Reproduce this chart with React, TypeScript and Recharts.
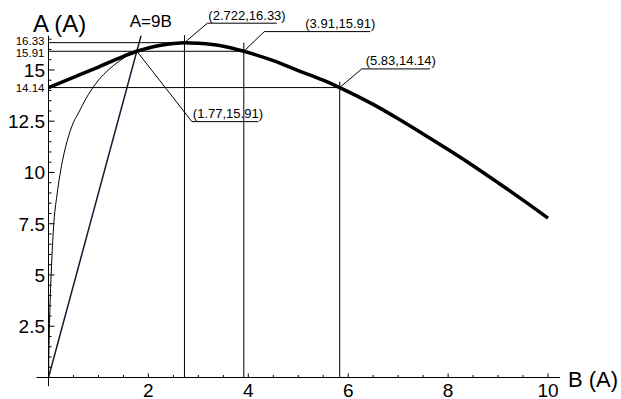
import { LineChart, Line, XAxis, YAxis, ReferenceLine, ReferenceDot } from "recharts";

// thick curve A(B)
const thickB = [0, 0.5, 1, 1.5, 1.77, 2, 2.25, 2.5, 2.722, 3, 3.5, 3.91, 4.5, 5, 5.5, 5.83, 6.5, 7, 7.5, 8, 8.5, 9, 9.5, 10];
const thickA = [14.14, 14.64, 15.14, 15.66, 15.91, 16.07, 16.2, 16.29, 16.33, 16.3, 16.16, 15.91, 15.45, 14.97, 14.5, 14.14, 13.32, 12.62, 11.88, 11.12, 10.33, 9.5, 8.65, 7.77];

// thin curve, rising from the origin
const thinB = [0, 0.01, 0.03, 0.06, 0.1, 0.17, 0.23, 0.3, 0.37, 0.5, 0.6, 0.75, 0.85, 1, 1.2, 1.4, 1.6, 1.77];
const thinA = [0, 1.5, 3.5, 5.4, 7.3, 8.9, 9.9, 10.8, 11.5, 12.45, 12.9, 13.6, 14.0, 14.5, 15.0, 15.4, 15.72, 15.91];

// A = 9B
const lineB = [0, 1.86];
const lineA = [0, 16.74];

// marked points and where their guide lines stop
const pointB = [2.722, 3.91, 5.83];
const pointA = [16.33, 15.91, 14.14];
const guideTop = [16.7, 16.33, 14.43];

// callouts: point, leader tip, underline end
const calloutText = ["(2.722,16.33)", "(3.91,15.91)", "(5.83,14.14)", "(1.77,15.91)"];
const calloutB = [2.722, 3.91, 5.83, 1.77];
const calloutA = [16.33, 15.91, 14.14, 15.91];
const tipB = [3.18, 4.32, 6.27, 2.87];
const tipA = [17.28, 16.87, 15.05, 12.48];
const lineEndB = [4.57, 6.44, 7.64, 4.2];
const textShift = [[1, -3], [41, -4], [4, -4], [1, -3.5]];

const xTicks = [0.5, 1, 1.5, 2, 2.5, 3, 3.5, 4, 4.5, 5, 5.5, 6, 6.5, 7, 7.5, 8, 8.5, 9, 9.5, 10];
const xLabels = [2, 4, 6, 8, 10];
const yMinor = [0.5, 1, 1.5, 2, 2.5, 3, 3.5, 4, 4.5, 5, 5.5, 6, 6.5, 7, 7.5, 8, 8.5, 9, 9.5, 10, 10.5, 11, 11.5, 12, 12.5, 13, 13.5, 14, 14.5, 15, 15.5, 16, 16.5];
const yLabels = [2.5, 5, 7.5, 10, 12.5, 15];
const ySmall = [14.14, 15.91, 16.33];
const ySmallNudge = [0, 1.5, -1.5];

const FONT = "'Liberation Sans', Arial, sans-serif";

const zip = (bs: number[], as: number[]) => bs.map((b, i) => ({ b, a: as[i] }));

function XTick({ x, y, payload }: any) {
  const v = payload.value;
  const major = xLabels.includes(v);
  return (
    <g>
      <line x1={x} x2={x} y1={y} y2={y - (major ? 4 : 2.5)} stroke="#000" />
      {major && (
        <text x={x} y={y + 19} textAnchor="middle" fontSize={19} fontFamily={FONT} fill="#000">
          {v}
        </text>
      )}
    </g>
  );
}

function YTick({ x, y, payload }: any) {
  const v = payload.value;
  const si = ySmall.indexOf(v);
  if (si >= 0) {
    return (
      <text x={x - 4} y={y + 4 + ySmallNudge[si]} textAnchor="end" fontSize={11.5} fontFamily={FONT} fill="#000">
        {v.toFixed(2)}
      </text>
    );
  }
  const major = yLabels.includes(v);
  return (
    <g>
      <line x1={x} x2={x + (major ? 6 : 3)} y1={y} y2={y} stroke="#000" />
      {major && (
        <text x={x - 3.5} y={y + 7} textAnchor="end" fontSize={19} fontFamily={FONT} fill="#000">
          {v}
        </text>
      )}
    </g>
  );
}

const textAt = (text: string, dx: number, dy: number, size: number, anchor = "start") => (props: any) => {
  const vb = props.viewBox || {};
  return (
    <text x={vb.x + dx} y={vb.y + dy} fontSize={size} fontFamily={FONT} textAnchor={anchor} fill="#000">
      {text}
    </text>
  );
};

export default function App() {
  return (
    <div style={{ position: "absolute", left: 0, top: 0, width: 621, height: 399, background: "#fff" }}>
      <LineChart width={621} height={399} margin={{ top: 35.7, right: 61, bottom: 0, left: 0.5 }}>
        <XAxis
          type="number"
          dataKey="b"
          domain={[0, 10.24]}
          allowDataOverflow
          ticks={xTicks}
          interval={0}
          tick={<XTick />}
          tickSize={0}
          tickMargin={0}
          axisLine={false}
          tickLine={false}
          height={21.5}
        />
        <YAxis
          type="number"
          dataKey="a"
          domain={[0, 16.67]}
          allowDataOverflow
          ticks={[...yMinor, ...ySmall]}
          interval={0}
          tick={<YTick />}
          tickSize={0}
          tickMargin={0}
          axisLine={false}
          tickLine={false}
          width={48}
        />

        {/* axes through the origin */}
        <ReferenceLine segment={[{ x: -0.24, y: 0 }, { x: 10.24, y: 0 }]} stroke="#000" ifOverflow="visible" />
        <ReferenceLine segment={[{ x: 0, y: -0.42 }, { x: 0, y: 16.67 }]} stroke="#000" ifOverflow="visible" />

        {pointB.map((b, i) => (
          <ReferenceLine key={"h" + i} segment={[{ x: 0, y: pointA[i] }, { x: b, y: pointA[i] }]} stroke="#000" ifOverflow="visible" />
        ))}
        {pointB.map((b, i) => (
          <ReferenceLine key={"v" + i} segment={[{ x: b, y: 0 }, { x: b, y: guideTop[i] }]} stroke="#000" ifOverflow="visible" />
        ))}

        {calloutB.map((b, i) => (
          <ReferenceLine
            key={"l" + i}
            segment={[{ x: b, y: calloutA[i] }, { x: tipB[i], y: tipA[i] }]}
            stroke="#000"
            ifOverflow="visible"
          />
        ))}
        {calloutB.map((_, i) => (
          <ReferenceLine
            key={"u" + i}
            segment={[{ x: tipB[i], y: tipA[i] }, { x: lineEndB[i], y: tipA[i] }]}
            stroke="#000"
            ifOverflow="visible"
            label={textAt(calloutText[i], textShift[i][0], textShift[i][1], 13)}
          />
        ))}

        <Line data={zip(thinB, thinA)} dataKey="a" type="monotone" stroke="#000" strokeWidth={1} dot={false} isAnimationActive={false} />
        <Line data={zip(lineB, lineA)} dataKey="a" type="linear" stroke="#1e1533" strokeWidth={1.5} dot={false} isAnimationActive={false} />
        <Line data={zip(thickB, thickA)} dataKey="a" type="monotone" stroke="#000" strokeWidth={3.5} dot={false} isAnimationActive={false} />

        <ReferenceDot x={1.86} y={16.74} r={0} fill="none" stroke="none" ifOverflow="visible" label={textAt("A=9B", 9.3, -7.4, 17, "middle")} />
        <ReferenceDot x={0} y={16.67} r={0} fill="none" stroke="none" ifOverflow="visible" label={textAt("A (A)", -15.5, -4, 24)} />
        <ReferenceDot x={10.24} y={0} r={0} fill="none" stroke="none" ifOverflow="visible" label={textAt("B (A)", 8, 9, 22)} />
      </LineChart>
    </div>
  );
}
